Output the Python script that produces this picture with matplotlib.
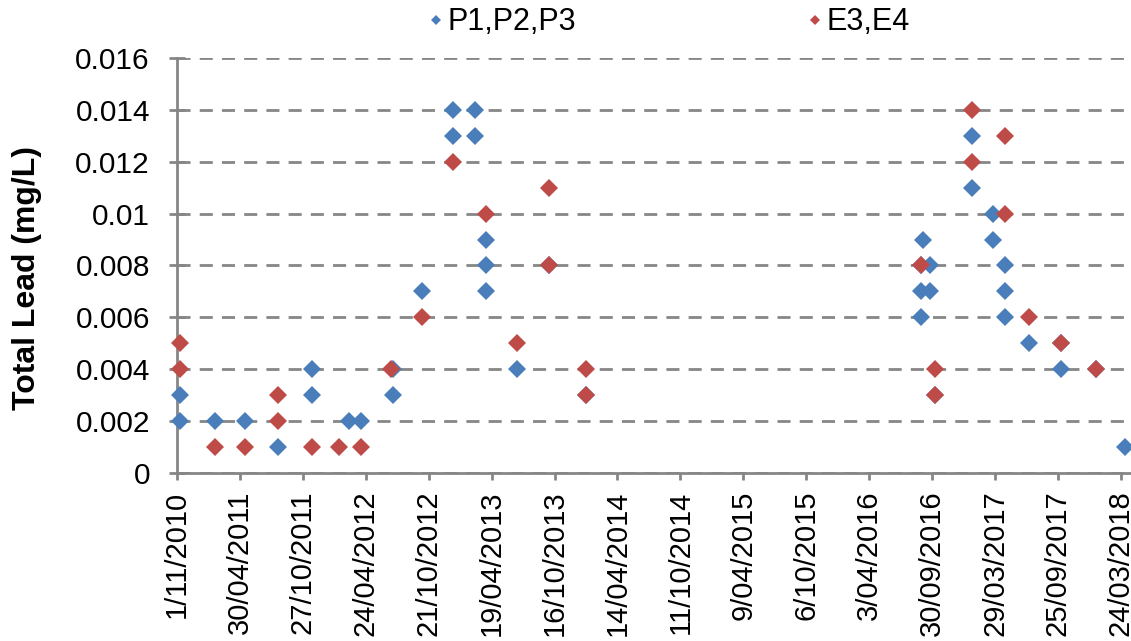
import matplotlib
matplotlib.use("Agg")
import matplotlib.pyplot as plt
from matplotlib.ticker import FuncFormatter, MultipleLocator
import pandas as pd

plt.rcParams['font.family'] = ['Liberation Sans', 'DejaVu Sans']

# P1,P2,P3 samples
p_dates = ['2010-11-10', '2010-11-10', '2011-02-18', '2011-05-14', '2011-08-18',
           '2011-11-23', '2011-11-23', '2012-03-06', '2012-04-10', '2012-07-12',
           '2012-07-12', '2012-10-03', '2012-12-30', '2012-12-30', '2013-03-02',
           '2013-03-02', '2013-04-03', '2013-04-03', '2013-04-03', '2013-07-01',
           '2013-10-01', '2014-01-14', '2016-08-28', '2016-08-28', '2016-08-28',
           '2016-09-05', '2016-09-24', '2016-09-24', '2016-10-08', '2017-01-21',
           '2017-01-21', '2017-03-22', '2017-03-22', '2017-04-26', '2017-04-26',
           '2017-04-26', '2017-07-04', '2017-10-03', '2017-10-03', '2018-01-12',
           '2018-04-05']
p_lead = [0.003, 0.002, 0.002, 0.002, 0.001,
          0.004, 0.003, 0.002, 0.002, 0.004,
          0.003, 0.007, 0.014, 0.013, 0.014,
          0.013, 0.009, 0.008, 0.007, 0.004,
          0.008, 0.003, 0.008, 0.007, 0.006,
          0.009, 0.008, 0.007, 0.003, 0.013,
          0.011, 0.010, 0.009, 0.008, 0.007,
          0.006, 0.005, 0.005, 0.004, 0.004,
          0.001]

# E3,E4 samples
e_dates = ['2010-11-10', '2010-11-10', '2011-02-18', '2011-05-14', '2011-08-18',
           '2011-08-18', '2011-11-23', '2012-02-08', '2012-04-10', '2012-07-04',
           '2012-10-03', '2012-12-30', '2013-04-03', '2013-07-01', '2013-10-01',
           '2013-10-01', '2014-01-14', '2014-01-14', '2016-08-28', '2016-10-08',
           '2016-10-08', '2017-01-21', '2017-01-21', '2017-04-26', '2017-04-26',
           '2017-07-04', '2017-10-03', '2018-01-12']
e_lead = [0.005, 0.004, 0.001, 0.001, 0.003,
          0.002, 0.001, 0.001, 0.001, 0.004,
          0.006, 0.012, 0.010, 0.005, 0.011,
          0.008, 0.004, 0.003, 0.008, 0.004,
          0.003, 0.014, 0.012, 0.013, 0.010,
          0.006, 0.005, 0.004]

start = pd.Timestamp('2010-11-01')
tick_dates = pd.date_range(start, periods=16, freq='180D')
x_end = start + pd.Timedelta(days=2729)

blue = '#4A7EBB'
red = '#BE4B48'
grey = '#868686'

fig = plt.figure(figsize=(11.31, 6.41), dpi=100)
ax = fig.add_axes([0.1565, 0.2626, 0.8435, 0.6465])

ax.plot(pd.to_datetime(p_dates), p_lead, 'D', color=blue, ms=9, mew=0,
        label='P1,P2,P3', clip_on=False, zorder=3)
ax.plot(pd.to_datetime(e_dates), e_lead, 'D', color=red, ms=9, mew=0,
        label='E3,E4', clip_on=False, zorder=4)

ax.set_xlim(start, x_end)
ax.set_ylim(0, 0.016)
ax.yaxis.set_major_locator(MultipleLocator(0.002))
ax.yaxis.set_major_formatter(FuncFormatter(lambda v, p: f'{v:g}'))
ax.set_xticks(tick_dates)
ax.set_xticklabels([f'{d.day}/{d.month:02d}/{d.year}' for d in tick_dates],
                   rotation=90)

ax.grid(axis='y', color=grey, linewidth=2, linestyle=(0, (4.7, 3.3)))
ax.set_axisbelow(True)
for s in ['top', 'right']:
    ax.spines[s].set_visible(False)
for s in ['left', 'bottom']:
    ax.spines[s].set_color(grey)
    ax.spines[s].set_linewidth(2)

ax.tick_params(axis='y', direction='inout', length=11, width=2, color=grey,
               labelsize=21.5, pad=14)
ax.tick_params(axis='x', direction='out', length=5, width=2, color=grey,
               labelsize=21, pad=8)

ax.set_ylabel('Total Lead (mg/L)', fontsize=23, fontweight='bold')
ax.yaxis.set_label_coords(-0.142, 0.47)

fig.legend(loc='center', bbox_to_anchor=(0.5895, 0.965), ncol=2, frameon=False,
           fontsize=22, columnspacing=7.4, handletextpad=0.0, handlelength=0.8,
           markerscale=0.6)

fig.savefig('out.png', dpi=100)
